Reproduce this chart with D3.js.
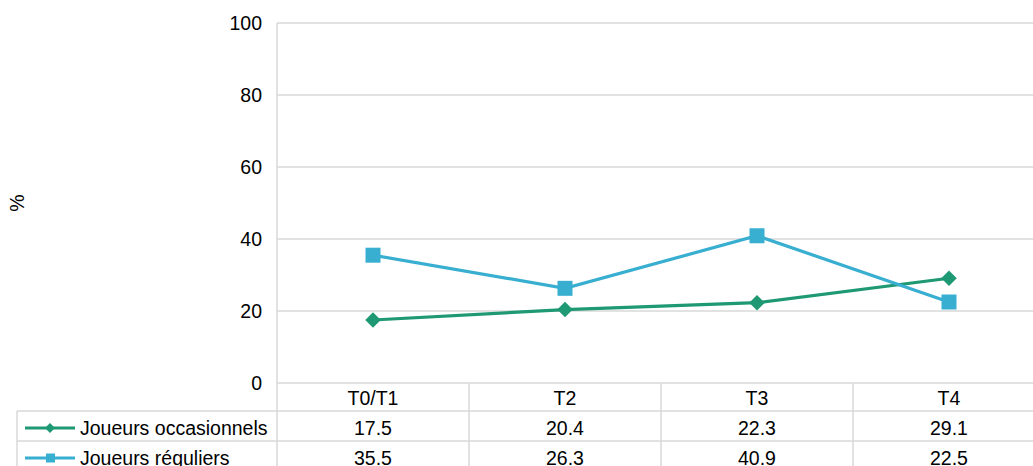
<!DOCTYPE html>
<html><head><meta charset="utf-8">
<script src="https://cdn.jsdelivr.net/npm/d3@7"></script>
<style>body{margin:0;background:#fff}svg{display:block}text{font-family:"Liberation Sans",Arial,sans-serif;fill:#000}</style>
</head><body>
<svg id="c" width="1033" height="466"></svg>
<script>
const categories = ["T0/T1","T2","T3","T4"];
const seriesNames = ["Joueurs occasionnels","Joueurs réguliers"];
const occasionnels = [17.5,20.4,22.3,29.1];
const reguliers = [35.5,26.3,40.9,22.5];
const yTicks = [0,20,40,60,80,100];
const colors = ["#1e9973","#38afd1"];
const series = [occasionnels, reguliers];

(function(){
const svg = d3.select("#c");
const pL = 277, pR = 1045, pT = 23, pB = 383;
const x = d3.scaleBand().domain(categories).range([pL, pR]);
const y = d3.scaleLinear().domain([0,100]).range([pB, pT]);
const grid = "#d9d9d9";
const fs = 19.5;

svg.append("g").selectAll("line").data(yTicks).join("line")
  .attr("x1", pL).attr("x2", pR).attr("y1", d=>y(d)).attr("y2", d=>y(d))
  .attr("stroke", grid).attr("stroke-width", 1.5);
svg.append("g").selectAll("text").data(yTicks).join("text")
  .attr("x", 262).attr("y", d=>y(d)).attr("dy","0.36em").attr("text-anchor","end")
  .style("font-size", fs+"px").text(d=>d);
svg.append("text").attr("transform","translate(24,203) rotate(-90)")
  .attr("text-anchor","middle").style("font-size", fs+"px").text("%");

const rowTops = [383, 411, 441, 471];
const tbl = svg.append("g").attr("stroke", grid).attr("stroke-width", 1.5);
tbl.append("line").attr("x1", pL).attr("x2", pL).attr("y1", pT).attr("y2", 471);
categories.forEach((c,i)=>{ if(i>0) tbl.append("line").attr("x1", x(c)).attr("x2", x(c)).attr("y1", 383).attr("y2", 471); });
tbl.append("line").attr("x1", 17).attr("x2", 17).attr("y1", 411).attr("y2", 471);
[411,441].forEach(v=>tbl.append("line").attr("x1",17).attr("x2",pR).attr("y1",v).attr("y2",v));

svg.append("g").selectAll("text").data(categories).join("text")
  .attr("x", d=>x(d)+x.bandwidth()/2).attr("y", 398).attr("dy","0.36em")
  .attr("text-anchor","middle").style("font-size", fs+"px").text(d=>d);

series.forEach((s,si)=>{
  const ry = (rowTops[si+1]+rowTops[si+2])/2;
  const ty = ry + 2;
  svg.append("g").selectAll("text").data(s).join("text")
    .attr("x", (d,i)=>x(categories[i])+x.bandwidth()/2).attr("y", ty).attr("dy","0.36em")
    .attr("text-anchor","middle").style("font-size", fs+"px").text(d=>d.toFixed(1));
  svg.append("line").attr("x1",25).attr("x2",75).attr("y1",ty).attr("y2",ty)
    .attr("stroke", colors[si]).attr("stroke-width",3);
  if(si===0) svg.append("rect").attr("x",-3.5).attr("y",-3.5).attr("width",7).attr("height",7)
    .attr("transform",`translate(50,${ty}) rotate(45)`).attr("fill",colors[si]);
  else svg.append("rect").attr("x",46).attr("y",ty-4.5).attr("width",9).attr("height",9).attr("fill",colors[si]);
  svg.append("text").attr("x",80).attr("y",ty).attr("dy","0.36em").style("font-size", fs+"px").text(seriesNames[si]);
});

const line = d3.line().x((d,i)=>x(categories[i])+x.bandwidth()/2).y(d=>y(d));
series.forEach((s,si)=>{
  svg.append("path").datum(s).attr("d", line).attr("fill","none")
    .attr("stroke", colors[si]).attr("stroke-width", 3.2);
});
svg.append("g").selectAll("rect").data(reguliers).join("rect")
  .attr("x",(d,i)=>x(categories[i])+x.bandwidth()/2-7.5).attr("y",d=>y(d)-7.5)
  .attr("width",15).attr("height",15).attr("fill",colors[1]);
svg.append("g").selectAll("rect").data(occasionnels).join("rect")
  .attr("x",-5.5).attr("y",-5.5).attr("width",11).attr("height",11)
  .attr("transform",(d,i)=>`translate(${x(categories[i])+x.bandwidth()/2},${y(d)}) rotate(45)`)
  .attr("fill",colors[0]);
})();
</script>
</body></html>
